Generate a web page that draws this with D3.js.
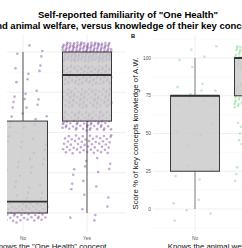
<!DOCTYPE html>
<html>
<head>
<meta charset="utf-8">
<script src="https://cdn.jsdelivr.net/npm/d3@7"></script>
<style>
html, body { margin: 0; padding: 0; background: #fff; }
svg { display: block; font-family: "Liberation Sans", Arial, sans-serif; }
</style>
</head>
<body>
<svg id="chart" width="242" height="248"></svg>
<script>
const groups = ["No", "Yes"];

// panel A: "One Health" knowledge score levels
const levelsA = [0, 14.3, 28.6, 42.9, 57.1, 71.4, 85.7, 100];
const countsANo = [55, 12, 10, 8, 10, 12, 7, 6];
const countsAYes = [5, 6, 8, 50, 75, 80, 100, 160];
// min, q1, median, q3, max
const boxANo = [0, 0, 7.1, 57.1, 100];
const boxAYes = [0, 57.1, 85.7, 100, 100];

// panel B: animal welfare knowledge score levels
const levelsB = [0, 25, 50, 75, 100];
const countsBNo = [5, 4, 4, 10, 5];
const countsBYes = [8, 15, 30, 120, 150];
const boxBNo = [0, 25, 75, 75, 100];
const boxBYes = [50, 75, 100, 100, 100];

const yTicks = [0, 25, 50, 75, 100];
const gridBreaks = [-12.5, 0, 12.5, 25, 37.5, 50, 62.5, 75, 87.5, 100, 112.5];

const svg = d3.select("#chart");

const title = svg.append("g")
    .attr("font-weight", "bold")
    .attr("font-size", 9.5)
    .attr("text-anchor", "middle");
title.append("text").attr("x", 128).attr("y", 18).text("Self-reported familiarity of \"One Health\"");
title.append("text").attr("x", 126).attr("y", 28.5).text("and animal welfare, versus knowledge of their key concepts");

function fract(v) { return v - Math.floor(v); }

function drawPanel(p) {

    const x = d3.scalePoint().domain(groups).range(p.xRange);
    const y = d3.scaleLinear().domain([0, 100]).range(p.yRange);
    const [x0, x1, y0, y1] = p.clip;
    const halfBox = 24.5;

    svg.append("clipPath").attr("id", "clip-" + p.id)
        .append("rect").attr("x", x0).attr("y", y0).attr("width", x1 - x0).attr("height", y1 - y0);

    const g = svg.append("g").attr("clip-path", `url(#clip-${p.id})`);

    g.append("g")
        .selectAll("line")
        .data(gridBreaks.filter(b => y(b) > y0 && y(b) < y1))
        .join("line")
        .attr("x1", x0).attr("x2", x1)
        .attr("y1", d => y(d)).attr("y2", d => y(d))
        .attr("stroke", d => d % 25 === 0 ? "#e4e4e4" : "#efefef")
        .attr("stroke-width", d => d % 25 === 0 ? 0.6 : 0.4);

    g.append("g")
        .selectAll("line")
        .data(groups)
        .join("line")
        .attr("x1", d => x(d)).attr("x2", d => x(d))
        .attr("y1", y0).attr("y2", y1)
        .attr("stroke", "#e4e4e4")
        .attr("stroke-width", 0.6);

    // jittered points, one per respondent
    const points = [];
    let i = 0;
    groups.forEach((grp, gi) => {
        p.counts[gi].forEach((n, k) => {
            for (let j = 0; j < n; j++) {
                i++;
                points.push({
                    group: grp,
                    value: p.levels[k],
                    jx: fract(i * 0.7548776662 + 0.31) - 0.5,
                    jy: fract(i * 0.5698402910 + 0.17) - 0.5
                });
            }
        });
    });

    g.append("g")
        .selectAll("circle")
        .data(points)
        .join("circle")
        .attr("cx", d => x(d.group) + d.jx * 2 * halfBox)
        .attr("cy", d => y(d.value + d.jy * 2 * p.jitterH))
        .attr("r", 1.3)
        .attr("fill", p.color)
        .attr("fill-opacity", p.opacity);

    const boxes = groups.map((grp, gi) => ({ group: grp, s: p.boxes[gi] }));

    const box = g.append("g").selectAll("g").data(boxes).join("g");

    box.append("line")
        .attr("x1", d => x(d.group)).attr("x2", d => x(d.group))
        .attr("y1", d => y(d.s[0])).attr("y2", d => y(d.s[1]))
        .attr("stroke", p.whisker).attr("stroke-width", 1);
    box.append("line")
        .attr("x1", d => x(d.group)).attr("x2", d => x(d.group))
        .attr("y1", d => y(d.s[3])).attr("y2", d => y(d.s[4]))
        .attr("stroke", p.whisker).attr("stroke-width", 1);

    box.append("rect")
        .attr("x", d => x(d.group) - halfBox)
        .attr("width", halfBox * 2)
        .attr("y", d => y(d.s[3]))
        .attr("height", d => y(d.s[1]) - y(d.s[3]))
        .attr("fill", "#c9c9c9")
        .attr("fill-opacity", 0.82)
        .attr("stroke", "#3a3a3a")
        .attr("stroke-width", 1);

    box.append("line")
        .attr("x1", d => x(d.group) - halfBox).attr("x2", d => x(d.group) + halfBox)
        .attr("y1", d => y(d.s[2])).attr("y2", d => y(d.s[2]))
        .attr("stroke", "#333").attr("stroke-width", 1.8);

    svg.append("g")
        .attr("font-size", 4.8)
        .attr("fill", "#555")
        .attr("text-anchor", "middle")
        .selectAll("text")
        .data(groups)
        .join("text")
        .attr("x", d => x(d))
        .attr("y", 240)
        .text(d => d);

    svg.append("text")
        .attr("x", p.titleX)
        .attr("y", 248.5)
        .attr("font-size", 7.8)
        .attr("text-anchor", "middle")
        .attr("fill", "#111")
        .text(p.xTitle);

    return y;
}

drawPanel({
    id: "a",
    xRange: [23, 87],
    yRange: [213, 52],
    clip: [7, 126, 35, 232],
    levels: levelsA,
    counts: [countsANo, countsAYes],
    boxes: [boxANo, boxAYes],
    color: "#6a2a8c",
    opacity: 0.4,
    jitterH: 6,
    whisker: "#555",
    titleX: 50,
    xTitle: "Knows the \"One Health\" concept"
});

const yB = drawPanel({
    id: "b",
    xRange: [195, 259],
    yRange: [209, 58],
    clip: [153, 320, 35, 232],
    levels: levelsB,
    counts: [countsBNo, countsBYes],
    boxes: [boxBNo, boxBYes],
    color: "#3dbb4a",
    opacity: 0.3,
    jitterH: 8,
    whisker: "#808080",
    titleX: 227,
    xTitle: "Knows the animal welfare concept"
});

svg.append("g")
    .attr("font-size", 4.8)
    .attr("fill", "#555")
    .attr("text-anchor", "end")
    .selectAll("text")
    .data(yTicks)
    .join("text")
    .attr("x", 151)
    .attr("y", d => yB(d))
    .attr("dy", "0.35em")
    .text(d => d);

svg.append("text")
    .attr("transform", `translate(137.5,${yB(50)}) rotate(-90)`)
    .attr("font-size", 7.8)
    .attr("text-anchor", "middle")
    .attr("fill", "#111")
    .text("Score % of key concepts knowledge of A.W.");

svg.append("text")
    .attr("x", 133)
    .attr("y", 37.5)
    .attr("font-size", 5.8)
    .attr("font-weight", "bold")
    .attr("text-anchor", "middle")
    .text("B");
</script>
</body>
</html>
